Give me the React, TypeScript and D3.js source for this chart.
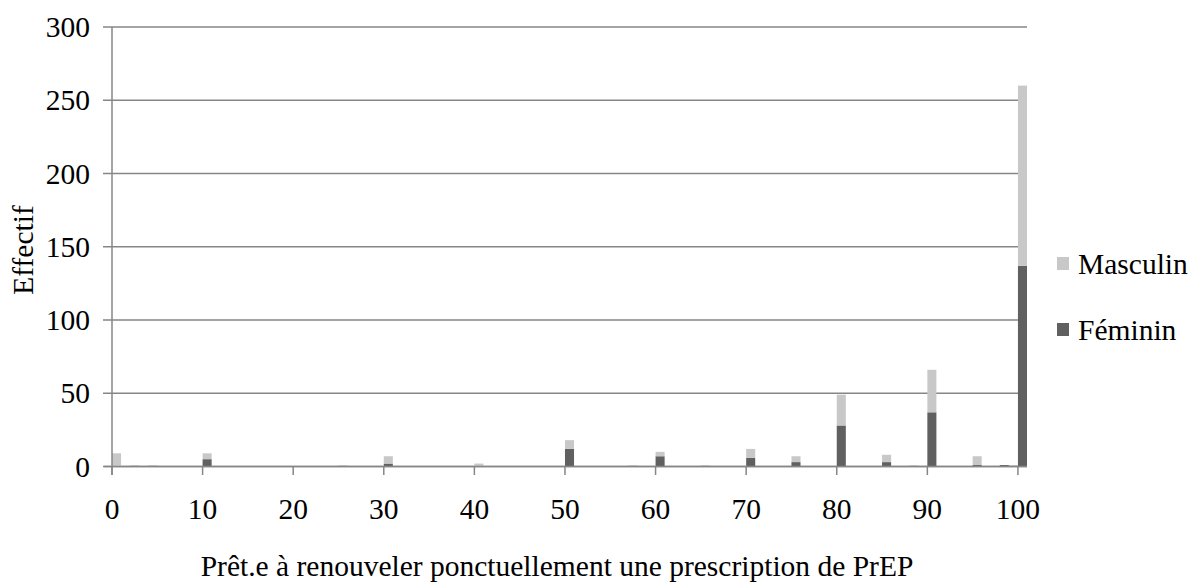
import React from 'react';
import * as d3 from 'd3';

// score (0-100) -> counts per sex, only scores that were answered
const scores = [0, 2, 4, 10, 25, 30, 40, 50, 57, 60, 65, 70, 75, 80, 85, 88, 90, 95, 98, 99, 100];
const feminin = [0, 0, 0, 5, 0, 2, 0, 12, 0, 7, 0, 6, 3, 28, 3, 0, 37, 1, 1, 0, 137];
const masculin = [9, 1, 1, 4, 1, 5, 2, 6, 1, 3, 1, 6, 4, 21, 5, 1, 29, 6, 0, 1, 123];
const xTicks = [0, 10, 20, 30, 40, 50, 60, 70, 80, 90, 100];
const yTicks = [0, 50, 100, 150, 200, 250, 300];
const seriesNames = ['Féminin', 'Masculin'];

const width = 1189;
const height = 585;
const font = "'Liberation Serif', 'DejaVu Serif', serif";
const fs = 29.5;

export default function App() {
    const x = d3.scaleLinear().domain([0, 101]).range([112, 1027]);
    const y = d3.scaleLinear().domain([0, 300]).range([466.5, 27]);
    const color = d3.scaleOrdinal<string>().domain(seriesNames).range(['#606060', '#c8c8c8']);

    const rows = scores.map((s, i) => ({ score: s, 'Féminin': feminin[i], 'Masculin': masculin[i] }));
    const stack = d3.stack<any>().keys(seriesNames)(rows);
    const axisColor = '#868686';

    return (
        <svg width={width} height={height} style={{ position: 'absolute', left: 0, top: 0, background: '#fff', fontFamily: font }}>
            {/* gridlines */}
            {yTicks.map(t => (
                <line key={'g' + t} x1={103} x2={1027} y1={y(t)} y2={y(t)} stroke={axisColor} strokeWidth={1.5} />
            ))}
            {/* bars */}
            {stack.map(layer => (
                <g key={layer.key} fill={color(layer.key)}>
                    {layer.map((d, i) => (d[1] - d[0] > 0 ?
                        <rect key={i} x={x(d.data.score)} width={x(d.data.score + 1) - x(d.data.score)}
                              y={y(d[1])} height={y(d[0]) - y(d[1])} /> : null))}
                </g>
            ))}
            {/* axes */}
            <line x1={112} x2={112} y1={y(300)} y2={475} stroke={axisColor} strokeWidth={1.5} />
            <line x1={104} x2={1027} y1={y(0)} y2={y(0)} stroke={axisColor} strokeWidth={1.5} />
            {xTicks.map(t => (
                <g key={'x' + t}>
                    <line x1={x(t)} x2={x(t)} y1={y(0)} y2={475} stroke={axisColor} strokeWidth={1.5} />
                    <text x={x(t)} y={519} textAnchor="middle" fontSize={fs}>{t}</text>
                </g>
            ))}
            {yTicks.map(t => (
                <text key={'y' + t} x={90} y={y(t) + 10} textAnchor="end" fontSize={fs}>{t}</text>
            ))}
            <text transform="translate(33,250) rotate(-90)" textAnchor="middle" fontSize={fs}>Effectif</text>
            <text x={557} y={576} textAnchor="middle" fontSize={fs}>Prêt.e à renouveler ponctuellement une prescription de PrEP</text>
            {/* legend */}
            {['Masculin', 'Féminin'].map((k, i) => (
                <g key={k} transform={`translate(1057, ${257 + i * 66})`}>
                    <rect width={12} height={13} fill={color(k)} />
                    <text x={21} y={17} fontSize={fs}>{k}</text>
                </g>
            ))}
        </svg>
    );
}
